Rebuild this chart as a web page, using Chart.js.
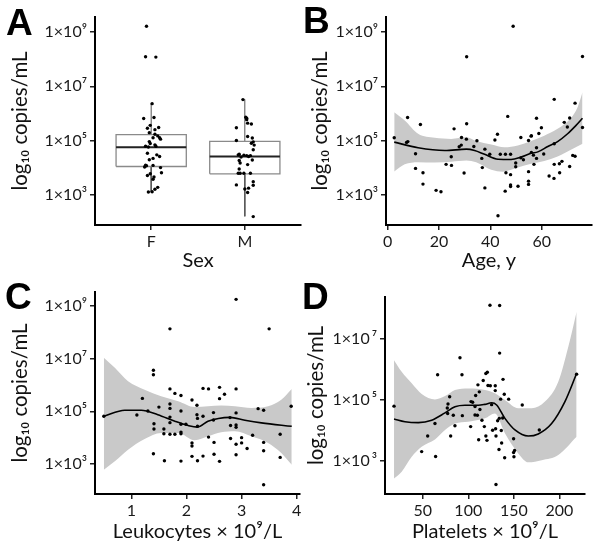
<!DOCTYPE html>
<html><head><meta charset="utf-8">
<script src="https://cdn.jsdelivr.net/npm/chart.js@4.4.0/dist/chart.umd.min.js"></script>
<style>
html,body{margin:0;padding:0;background:#fff;}
#wrap{position:relative;width:600px;height:554px;overflow:hidden;background:#fff;}
canvas{position:absolute;}
.lbl{position:absolute;font-family:'Liberation Sans',Arial,sans-serif;font-weight:bold;font-size:37px;line-height:37px;color:#000;}
</style></head><body>
<div id="wrap">
<canvas id="cA" width="305" height="277" style="left:0;top:0"></canvas>
<canvas id="cB" width="300" height="277" style="left:300px;top:0"></canvas>
<canvas id="cC" width="305" height="277" style="left:0;top:277px"></canvas>
<canvas id="cD" width="300" height="277" style="left:300px;top:277px"></canvas>
<div class="lbl" style="left:6px;top:4px">A</div>
<div class="lbl" style="left:303px;top:2px">B</div>
<div class="lbl" style="left:5px;top:278px">C</div>
<div class="lbl" style="left:302px;top:278px">D</div>
</div>
<script>
// ---------- DATA (log10 copies/mL) ----------
const sexCategories = ['F', 'M'];
const femalePoints = [[0.95,9.22],[0.94,8.09],[1.05,8.08],[1.01,6.36],[0.92,5.81],[1.03,5.85],[0.96,5.45],[0.99,5.56],[1.04,5.40],[1.08,5.48],[0.98,5.29],[1.04,5.23],[1.07,5.17],[1.09,5.10],[1.10,5.05],[1.02,5.10],[0.98,4.96],[0.99,4.89],[1.04,4.84],[1.05,4.79],[0.94,4.79],[0.97,4.76],[0.96,4.53],[1.06,4.47],[1.09,4.41],[0.98,4.29],[1.02,4.34],[0.94,4.09],[0.93,4.02],[0.95,4.07],[1.02,4.08],[1.10,4.00],[0.99,3.77],[0.96,3.71],[1.11,3.81],[1.03,3.65],[1.02,3.57],[1.07,3.27],[1.04,3.20],[0.97,3.10],[1.01,3.11]];
const malePoints = [[1.98,6.51],[2.01,5.86],[2.02,5.82],[2.02,5.77],[2.07,5.61],[2.03,5.64],[1.91,5.47],[2.03,5.15],[2.08,5.09],[1.91,5.00],[2.09,4.95],[2.07,4.90],[2.10,4.83],[2.09,4.66],[1.93,4.47],[1.94,4.49],[1.99,4.46],[2.02,4.44],[2.04,4.41],[2.06,4.44],[1.96,4.39],[2.08,4.28],[1.94,4.26],[1.95,4.17],[2.03,4.11],[1.94,3.95],[1.93,3.79],[1.95,3.79],[1.99,3.79],[2.06,3.79],[1.91,3.36],[2.09,3.48],[2.09,3.35],[2.00,3.21],[2.04,3.24],[2.03,3.08],[2.09,2.19]];
const boxQ1 = [4.04, 3.77];
const boxMedian = [4.75, 4.41];
const boxQ3 = [5.22, 4.97];
const whiskerLow = [3.09, 2.20];
const whiskerHigh = [6.38, 6.52];

const agePoints = [[2.6,5.10],[7.4,4.93],[7.9,4.96],[7.8,5.85],[10.9,4.51],[12.8,5.59],[10.9,3.97],[13.8,3.81],[13.8,3.39],[18.9,3.16],[20.8,3.11],[22.8,4.12],[24.8,4.40],[24.9,4.08],[25.9,5.43],[27.9,4.77],[28.7,4.83],[28.8,5.11],[29.8,3.80],[30.8,8.09],[30.8,5.62],[30.7,5.05],[34.8,4.99],[33.6,4.78],[36.7,4.34],[36.9,4.00],[37.9,4.68],[37.9,3.25],[39.8,4.49],[41.8,5.02],[42.8,5.23],[43.0,2.22],[43.9,4.49],[45.9,4.49],[46.1,3.81],[45.8,3.13],[46.8,5.89],[47.9,4.49],[47.9,3.74],[47.9,3.36],[47.9,3.30],[48.9,9.22],[49.9,4.17],[49.9,4.03],[50.8,3.31],[51.9,5.11],[51.9,4.36],[52.9,4.29],[54.9,3.85],[54.9,3.50],[54.9,3.38],[54.9,5.00],[55.9,5.16],[56.0,5.18],[56.0,4.56],[56.8,4.46],[57.0,4.12],[58.0,4.73],[58.0,4.34],[58.0,5.82],[58.9,5.26],[59.9,5.47],[60.8,4.50],[62.9,3.69],[64.8,3.60],[64.9,6.52],[64.9,4.12],[64.9,4.88],[66.9,4.14],[67.0,3.81],[67.9,4.23],[68.8,5.67],[70.0,5.50],[70.9,5.83],[70.9,4.04],[72.1,4.45],[73.0,4.42],[73.0,6.38],[75.9,8.10],[75.9,5.48]];
const ageFit = [[2.6,4.94],[11.9,4.73],[22.3,4.63],[30.7,4.68],[33.9,4.63],[37.8,4.49],[43,4.31],[48.1,4.30],[52,4.39],[55.9,4.53],[58.5,4.58],[62.4,4.78],[66.2,4.96],[70.1,5.25],[73.3,5.55],[75.9,5.82]];
const ageUpper = [[2.6,6.04],[6.7,5.74],[11.9,5.25],[18.4,5.10],[24.8,5.06],[30.7,5.12],[34.5,4.98],[40.4,4.85],[45.5,4.75],[50.7,4.82],[55.9,4.98],[61,5.18],[66.2,5.43],[71.4,5.83],[74,6.23],[75.9,6.78]];
const ageLower = [[2.6,3.86],[6.7,4.12],[11.9,4.20],[18.4,4.19],[24.8,4.22],[30.7,4.26],[34.5,4.20],[40.4,3.92],[44.9,3.85],[50.7,4.00],[55.9,4.14],[61,4.24],[66.2,4.41],[71.4,4.66],[75.9,4.88]];

const leukPoints = [[0.50,4.81],[1.10,4.86],[1.20,5.49],[1.30,5.01],[1.40,6.56],[1.40,6.39],[1.41,4.53],[1.41,4.33],[1.40,3.39],[1.50,5.16],[1.59,4.33],[1.59,4.15],[1.60,3.12],[1.70,8.13],[1.70,5.85],[1.70,5.28],[1.70,5.11],[1.70,4.78],[1.70,4.57],[1.70,4.13],[1.79,5.68],[1.79,4.13],[1.90,5.60],[1.90,5.01],[1.90,4.51],[1.90,4.21],[1.90,4.15],[1.90,3.11],[1.99,4.51],[2.10,5.43],[2.10,3.80],[2.10,3.68],[2.10,3.29],[2.19,5.23],[2.19,4.87],[2.20,4.73],[2.20,4.43],[2.20,3.12],[2.30,5.87],[2.30,4.81],[2.30,3.30],[2.40,5.85],[2.40,4.02],[2.49,4.95],[2.49,4.67],[2.50,3.82],[2.50,3.37],[2.60,5.91],[2.60,5.48],[2.60,3.10],[2.69,5.65],[2.79,4.76],[2.80,4.46],[2.80,3.97],[2.90,9.25],[2.90,5.85],[2.90,4.94],[2.90,4.48],[2.90,4.39],[2.90,3.75],[2.90,3.35],[3.00,4.00],[3.00,3.80],[3.10,3.59],[3.20,4.09],[3.30,5.10],[3.40,5.04],[3.40,3.82],[3.40,3.50],[3.40,2.21],[3.50,8.13],[3.70,4.13],[3.70,3.25],[3.90,5.19]];
const leukFit = [[0.5,4.81],[0.88,5.04],[1.18,5.04],[1.48,4.87],[1.79,4.62],[2.03,4.46],[2.2,4.40],[2.39,4.62],[2.58,4.73],[2.79,4.77],[3.06,4.66],[3.36,4.56],[3.91,4.43]];
const leukUpper = [[0.5,7.03],[0.70,6.65],[0.94,6.14],[1.24,5.82],[1.54,5.57],[1.85,5.38],[2.15,5.16],[2.39,5.19],[2.63,5.22],[2.88,5.19],[3.18,5.13],[3.48,5.19],[3.72,5.44],[3.91,5.85]];
const leukLower = [[0.5,2.78],[0.70,3.10],[0.94,3.54],[1.24,3.95],[1.54,4.18],[1.85,4.18],[2.15,3.90],[2.39,4.05],[2.63,4.20],[2.88,4.24],[3.18,4.05],[3.48,3.80],[3.72,3.42],[3.91,2.97]];

const platPoints = [[18.6,4.80],[48.9,3.31],[55.5,3.82],[64.2,3.15],[66.4,5.83],[63.5,4.23],[77.4,4.56],[77.0,4.74],[77.8,4.87],[79.6,5.11],[80.7,3.82],[83.6,4.50],[85.4,4.16],[90.9,6.39],[93.1,5.83],[93.5,4.49],[102.6,4.13],[103.0,4.95],[104.8,4.93],[107.4,4.79],[108.1,5.15],[107.4,4.51],[110.0,4.50],[110.6,5.50],[112.1,5.27],[112.8,4.69],[111.4,3.70],[115.0,4.34],[116.4,5.64],[117.6,4.13],[119.3,5.87],[120.9,5.91],[119.3,3.82],[120.5,3.68],[121.6,5.48],[123.8,8.11],[124.2,5.47],[125.6,4.85],[126.7,4.01],[129.6,5.47],[129.6,5.31],[130.0,4.06],[130.4,3.82],[130.4,2.23],[132.2,4.32],[133.7,3.38],[134.4,8.10],[134.4,6.54],[134.0,4.40],[135.5,5.03],[136.2,4.00],[136.6,3.59],[137.7,4.41],[138.1,5.68],[139.5,5.19],[139.9,3.11],[144.3,5.03],[149.7,3.73],[149.7,3.28],[150.1,3.14],[150.8,3.35],[159.2,4.84],[177.9,4.02],[218.8,5.85]];
const platFit = [[18.6,4.38],[30.6,4.29],[45.3,4.26],[59.9,4.34],[74.5,4.58],[85.4,4.78],[96.4,4.83],[111,4.83],[118.3,4.86],[125.6,4.91],[131.1,4.84],[140.2,4.40],[151.2,4.02],[165.8,3.82],[176.8,3.89],[191.4,4.23],[206,4.95],[218.8,5.87]];
const platUpper = [[18.6,6.31],[27,5.93],[38,5.55],[48.9,5.20],[63.5,5.02],[74.5,5.13],[85.4,5.33],[100,5.38],[118.3,5.33],[129.2,5.22],[140.2,5.00],[154.8,4.73],[169.5,4.73],[184.1,4.95],[198.7,5.60],[209.7,6.75],[218.8,7.90]];
const platLower = [[18.6,2.43],[27,2.65],[38,3.14],[48.9,3.47],[63.5,3.71],[74.5,4.02],[85.4,4.23],[100,4.29],[118.3,4.40],[129.2,4.56],[140.2,3.91],[154.8,3.25],[165.8,2.96],[180.5,3.03],[198.7,3.20],[218.8,3.80]];

const yTicksMain = [3, 5, 7, 9];
const yTicksPlat = [3, 5, 7];
const ageTicks = [0, 20, 40, 60];
const leukTicks = [1, 2, 3, 4];
const platTicks = [50, 100, 150, 200];
const sexTicks = [1, 2];

// ---------- helpers ----------
const FONT = "Lato, 'Open Sans', 'DejaVu Sans', sans-serif";
const SUP = {3:'\u00b3',5:'\u2075',7:'\u2077',9:'\u2079'};
const toXY = arr => arr.map(p => ({x: p[0], y: p[1]}));
const BAND = '#c9c9c9';

function pointsDs(arr) {
  return {type:'scatter', data: toXY(arr), pointRadius: 1.7, pointBackgroundColor:'#000', pointBorderWidth:0, showLine:false};
}
function fitDs(arr) {
  return {type:'line', data: toXY(arr), borderColor:'#000', borderWidth:1.6, pointRadius:0, fill:false, cubicInterpolationMode:'monotone'};
}
function bandDs(arr, fill) {
  return {type:'line', data: toXY(arr), borderWidth:0, borderColor:'rgba(0,0,0,0)', pointRadius:0, fill: fill, backgroundColor: BAND, cubicInterpolationMode:'monotone'};
}

function panel(id, o) {
  return new Chart(document.getElementById(id), {
    type: 'scatter',
    data: {datasets: o.datasets},
    options: {
      responsive: false, animation: false, events: [],
      layout: {padding: o.pad},
      plugins: {legend:{display:false}, tooltip:{enabled:false}},
      scales: {
        x: {
          type:'linear', min:o.xMin, max:o.xMax,
          afterBuildTicks: s => { s.ticks = o.xTicks.map(v => ({value:v})); },
          afterFit: s => { s.height = o.xH; },
          ticks: {callback: o.xFmt || (v => String(v)), font:{family:FONT, size:16}, color:'#1a1a1a', padding:2, maxRotation:0, autoSkip:false},
          grid: {drawOnChartArea:false, drawTicks:true, tickLength:5, color:'#222', lineWidth:1.5},
          border: {display:true, color:'#000', width:2},
          title: {display:true, text:o.xTitle, font:{family:FONT, size:20}, color:'#111', padding:{top:0, bottom:o.xTitlePad}}
        },
        y: {
          type:'linear', min:o.yMin, max:o.yMax,
          afterBuildTicks: s => { s.ticks = o.yTicks.map(v => ({value:v})); },
          afterFit: s => { s.width = o.yW; },
          ticks: {callback: v => '1\u00d710' + (o.supSpace ? '\u2009' : '') + SUP[v], font:{family:FONT, size:16}, color:'#1a1a1a', padding:3, autoSkip:false},
          grid: {drawOnChartArea:false, drawTicks:true, tickLength:5, color:'#222', lineWidth:1.5},
          border: {display:true, color:'#000', width:2},
          title: {display:true, text:'log\u2081\u2080 copies/mL', font:{family:FONT, size:20.5}, color:'#111', padding:{top:o.yTitlePad, bottom:0}}
        }
      }
    }
  });
}

// ---------- Panel A: box plot ----------
const HALF = 0.375;
const boxOutline = [], medianSeg = [], whiskerSeg = [];
sexCategories.forEach((c, i) => {
  const cx = i + 1;
  boxOutline.push({x:cx-HALF,y:boxQ1[i]},{x:cx+HALF,y:boxQ1[i]},{x:cx+HALF,y:boxQ3[i]},{x:cx-HALF,y:boxQ3[i]},{x:cx-HALF,y:boxQ1[i]},{x:cx,y:null});
  medianSeg.push({x:cx-HALF,y:boxMedian[i]},{x:cx+HALF,y:boxMedian[i]},{x:cx,y:null});
  whiskerSeg.push({x:cx,y:boxQ3[i]},{x:cx,y:whiskerHigh[i]},{x:cx,y:null},{x:cx,y:boxQ1[i]},{x:cx,y:whiskerLow[i]},{x:cx,y:null});
});

panel('cA', {
  datasets: [
    pointsDs(femalePoints), pointsDs(malePoints),
    {type:'line', data: medianSeg, borderColor:'#222', borderWidth:1.8, pointRadius:0, spanGaps:false, fill:false, tension:0},
    {type:'line', data: boxOutline, borderColor:'#8a8a8a', borderWidth:1.3, pointRadius:0, spanGaps:false, fill:false, tension:0},
    {type:'line', data: whiskerSeg, borderColor:'#555', borderWidth:1, pointRadius:0, spanGaps:false, fill:false, tension:0}
  ],
  pad:{top:17, right:3, left:0, bottom:0},
  xMin:0.4, xMax:2.6, xTicks: sexTicks, xFmt: v => sexCategories[v-1], xH:52, xTitle:'Sex', xTitlePad:4,
  yMin:1.88, yMax:9.56, yTicks: yTicksMain, yW:95, yTitlePad:8.5
});

panel('cB', {
  datasets: [pointsDs(agePoints), fitDs(ageFit), bandDs(ageUpper, '+1'), bandDs(ageLower, false)],
  pad:{top:17, right:8, left:0, bottom:0},
  xMin:-0.6, xMax:79.6, xTicks: ageTicks, xH:52, xTitle:'Age, y', xTitlePad:4,
  yMin:1.88, yMax:9.56, yTicks: yTicksMain, yW:86, yTitlePad:8.5
});

panel('cC', {
  datasets: [pointsDs(leukPoints), fitDs(leukFit), bandDs(leukUpper, '+1'), bandDs(leukLower, false)],
  pad:{top:15, right:5, left:0, bottom:0},
  xMin:0.34, xMax:4.06, xTicks: leukTicks, xH:60, xTitle:'Leukocytes \u00d7 10\u2079/L', xTitlePad:10,
  yMin:1.86, yMax:9.53, yTicks: yTicksMain, yW:95, yTitlePad:8.5
});

panel('cD', {
  datasets: [pointsDs(platPoints), fitDs(platFit), bandDs(platUpper, '+1'), bandDs(platLower, false)],
  pad:{top:20, right:15, left:0, bottom:0},
  xMin:8.7, xMax:228, xTicks: platTicks, xH:60, xTitle:'Platelets \u00d7 10\u2079/L', xTitlePad:10,
  yMin:1.92, yMax:8.38, yTicks: yTicksPlat, yW:85, yTitlePad:4, supSpace:true
});
</script>
</body></html>
